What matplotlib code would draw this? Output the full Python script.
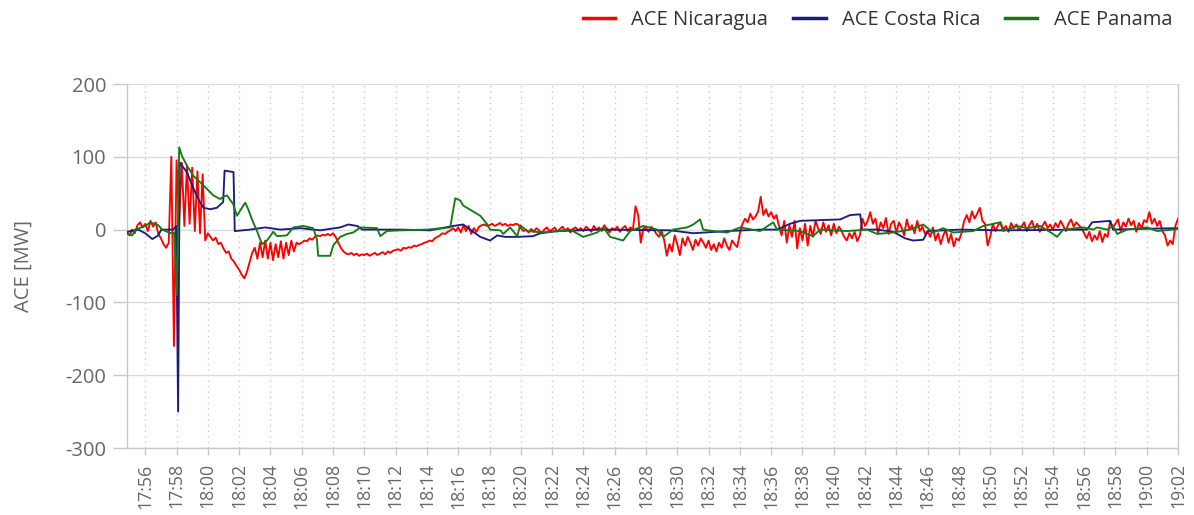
import matplotlib
matplotlib.use("Agg")
import matplotlib.pyplot as plt
import matplotlib.dates as mdates
import pandas as pd

plt.rcParams['font.family'] = ['Open Sans', 'DejaVu Sans']
plt.rcParams['axes.unicode_minus'] = False

# ---------------- data ----------------
day = '2024-01-01 '
t_start = pd.Timestamp(day + '17:54:50')
t_ref = pd.Timestamp(day + '17:56:00')
t_end = pd.Timestamp(day + '19:02:00')

series_names = ['ACE Nicaragua', 'ACE Costa Rica', 'ACE Panama']
series_colors = ['#FF0000', '#1C1C80', '#157A15']
y_label = 'ACE [MW]'
y_ticks = [200, 100, 0, -100, -200, -300]

# Nicaragua: samples every 10 s starting 17:54:50 (one row = 2 minutes)
red_mw = [
    -3, -8, 0, -5, 6, 10, 3,
    8, -2, 12, 4, 10, -6, -12, -20, -25, -18, 100, -160,          # 17:56
    95, 10, 92, 5, 88, 8, 85, -2, 80, -5, 76, -15,                # 17:58
    -5, -10, -15, -11, -20, -18, -26, -32, -30, -40, -44, -50,    # 18:00
    -55, -62, -67, -58, -45, -32, -25, -40, -18, -38, -15, -40,   # 18:02
    -18, -42, -20, -38, -16, -40, -18, -35, -15, -30, -18, -20,   # 18:04
    -18, -15, -16, -12, -14, -10, -8, -9, -7, -8, -6, -8,         # 18:06
    -5, -10, -18, -25, -30, -33, -34, -32, -35, -33, -36, -34,    # 18:08
    -35, -33, -36, -34, -32, -35, -33, -31, -34, -30, -32, -29,   # 18:10
    -28, -27, -29, -25, -26, -24, -25, -22, -23, -21, -20, -18,   # 18:12
    -17, -15, -16, -12, -10, -8, -5, -6, -3, -1, 2, -2,           # 18:14
    3, -4, 6, -2, 5, -6, 2, -3, 4, 6, 7, 5,                       # 18:16
    6, 8, 5, 7, 9, 6, 8, 5, 7, 6, 8, 7,                           # 18:18
    2, -2, 0, -4, 1, -3, 2, -1, -5, 0, 3, -2,                     # 18:20
    0, 3, -3, 1, 4, -2, 2, -4, 1, 3, -1, 2,                       # 18:22
    -2, 4, 1, -3, 5, 0, 3, -2, 6, 1, -4, 2,                       # 18:24
    0, 4, -3, 2, 5, -2, 3, 0, 32, 20, -18, 2,                     # 18:26
    2, -3, 4, 0, -6, -10, -2, -15, -36, -20, -30, -8,             # 18:28
    -20, -35, -12, -22, -10, -18, -28, -14, -22, -12, -18, -25,   # 18:30
    -15, -28, -20, -30, -18, -25, -12, -22, -28, -15, -20, -24,   # 18:32
    -5, 8, 15, 10, 22, 14, 18, 25, 45, 20, 28, 18,                # 18:34
    24, 15, 20, 5, -8, 12, -18, 6, -10, 12, -26, 2,               # 18:36
    -15, 8, -22, 5, -10, 12, 2, -6, 10, -3, 6, -8,                # 18:38
    8, -5, 4, -2, -10, -15, -5, -12, -3, -16, -8, 15,             # 18:40
    5, 12, 24, 8, 15, -5, 10, 2, 16, -6, 8, 12,                   # 18:42
    -4, 10, 3, -8, 14, 0, 6, -5, 12, -2, 4, -6,                   # 18:44
    -2, -10, 3, -15, -5, -20, -8, 0, -18, -6, -23, -12,           # 18:46
    -15, -5, 12, 20, 10, 25, 15, 22, 30, 12, 8, -22,              # 18:48
    -10, 8, -2, 6, 10, 0, 5, -3, 9, 2, 7, -1,                     # 18:50
    4, 10, -2, 6, 12, 1, 8, -3, 5, 11, 2, 7,                      # 18:52
    0, 9, 3, 12, 5, -2, 8, 14, 4, 10, 6, 2,                       # 18:54
    -5, -12, -3, -16, -8, -14, -2, -17, -6, -10, 12, 3,           # 18:56
    8, 14, -2, 10, 4, 15, 6, 12, -3, 9, 2, 13,                    # 18:58
    10, 24, 8, 15, 5, 12, -2, -8, -22, -15, -20, 5,               # 19:00
    15,
]

# Costa Rica: minutes after 17:56 and values
blue_min = [-1.15, -0.45, 0.0, 0.45, 0.83, 1.02, 1.79, 1.98, 2.10, 2.20, 2.66, 3.09,
            3.51, 3.73, 4.15, 4.58, 4.98, 5.07, 5.64, 5.72, 6.71, 7.67, 8.63, 9.90,
            11.18, 12.46, 12.97, 13.55, 13.87, 16.29, 18.21, 19.68, 20.32, 20.77, 21.41,
            22.04, 22.49, 23.00, 23.77, 24.79, 25.24, 26.33, 29.07, 33.55, 35.02, 37.19,
            39.30, 40.38, 41.21, 41.85, 44.41, 45.05, 45.69, 45.81, 46.77, 47.80, 48.56,
            49.07, 49.71, 50.03, 52.08, 54.63, 60.19, 60.51, 61.66, 61.85, 63.58, 66.0]
blue_mw = [-3, 0, -5, -13, -8, 0, 0, 5, -250, 92, 79, 56,
           37, 30, 28, 30, 38, 81, 79, -2, 0, 3, 0, 2,
           -1, 3, 7, 5, 0, 0, -1, 5, 7, 0, -10,
           -15, -8, -10, -10, -9, -5, -2, 0, -1, -5, -2,
           0, 0, 8, 12, 14, 20, 21, 0, 0, -3, -12,
           -15, -14, -2, 0, -1, 0, 10, 12, 0, 1, 2]

# Panama: minutes after 17:56 and values
green_min = [-1.15, -0.83, -0.64, 0.0, 0.32, 0.83, 1.09, 1.60, 1.85, 2.01, 2.17, 2.35,
             2.66, 3.07, 3.51, 3.94, 4.35, 4.79, 4.98, 5.22, 5.62, 5.86, 6.18, 6.39,
             6.58, 6.82, 7.14, 7.46, 7.78, 8.18, 8.42, 9.05, 9.46, 10.10, 10.73, 10.97,
             11.05, 11.82, 12.01, 12.46, 12.89, 13.29, 13.74, 14.81, 15.02, 15.44, 16.29,
             18.02, 19.49, 19.81, 20.13, 20.32, 21.41, 21.83, 22.04, 22.68, 22.88, 23.32,
             23.77, 23.96, 24.41, 25.43, 26.33, 27.16, 27.99, 28.88, 29.27, 29.71, 30.54,
             30.99, 31.82, 32.72, 33.10, 33.74, 34.63, 35.02, 35.46, 35.65, 36.29, 37.19,
             38.02, 39.30, 40.13, 40.38, 41.85, 42.68, 43.13, 44.86, 46.13, 46.77, 47.80,
             48.88, 49.71, 50.35, 50.99, 51.63, 52.91, 53.55, 54.63, 54.82, 55.72, 56.36,
             57.19, 58.02, 58.27, 58.66, 59.94, 60.58, 60.83, 61.47, 61.85, 62.11, 62.75,
             64.03, 64.66, 65.69, 66.0]
green_mw = [-6, -8, 0, 5, 10, 6, 0, -5, -4, -90, 113, 101,
            88, 74, 65, 56, 47, 42, 45, 47, 35, 19, 30, 37,
            28, 14, -2, -20, -15, -3, -9, -8, 3, 5, 2, -13,
            -36, -36, -22, -10, -6, -4, 3, 2, -9, -2, -1,
            0, 3, 43, 40, 33, 19, 8, 0, -1, -6, 3,
            -9, 6, -2, -4, -2, 0, -10, -4, 3, -10, -15,
            -2, 5, 0, -10, 0, 3, 7, 14, 0, -2, -4,
            3, -2, 10, 0, -2, -9, 0, -2, 0, -6, -4,
            0, 7, -4, 2, -4, -2, 5, 10, -2, 5, 2,
            5, -6, -10, 0, 3, 0, 3, 0, 5, -6, 0,
            3, -2, 0, 1]

# ---------------- build times ----------------
red_t = pd.date_range(t_start, periods=len(red_mw), freq='10s').to_numpy()
blue_t = (t_ref + pd.to_timedelta(blue_min, unit='min')).to_numpy()
green_t = (t_ref + pd.to_timedelta(green_min, unit='min')).to_numpy()

# ---------------- figure ----------------
W, H = 1194, 515
fig = plt.figure(figsize=(W / 100, H / 100), dpi=100)
ax = fig.add_axes([127 / W, 1 - 448 / H, (1178 - 127) / W, (448 - 84) / H])

lw = 1.35
ax.plot(red_t, red_mw, color=series_colors[0], lw=lw, label=series_names[0], zorder=3)
ax.plot(blue_t, blue_mw, color=series_colors[1], lw=lw, label=series_names[1], zorder=4)
ax.plot(green_t, green_mw, color=series_colors[2], lw=lw, label=series_names[2], zorder=5)

ax.set_xlim(t_start.to_numpy(), t_end.to_numpy())
ax.set_ylim(-300, 200)
ax.set_yticks(y_ticks)

ax.xaxis.set_major_locator(mdates.MinuteLocator(byminute=range(0, 60, 2)))
ax.xaxis.set_major_formatter(mdates.DateFormatter('%H:%M'))

tick_color = '#666666'
fs_x = 12.8
fs_y = 14.5
ax.tick_params(axis='x', labelrotation=90, labelsize=fs_x, colors='#c8c8c8',
               labelcolor=tick_color, length=5, width=1, pad=6)
ax.tick_params(axis='y', labelsize=fs_y, colors='#c8c8c8', labelcolor=tick_color,
               length=10, width=1, pad=5)

ax.grid(axis='y', color='#dcdcdc', lw=1, ls='-')
ax.grid(axis='x', color='#c8c8c8', lw=1, ls=(0, (1, 3)))
ax.set_axisbelow(True)

for side in ['left', 'bottom', 'right']:
    ax.spines[side].set_color('#c8c8c8')
    ax.spines[side].set_linewidth(1)
ax.spines['top'].set_visible(False)

ax.set_ylabel(y_label, fontsize=fs_y, color=tick_color, labelpad=23)

fs_leg = 14.5
leg = fig.legend(loc='upper right', bbox_to_anchor=(1172 / W, 1 - 10 / H), ncol=3,
                 frameon=False, fontsize=fs_leg, handlelength=1.6, handletextpad=0.8,
                 columnspacing=1.25, borderpad=0, borderaxespad=0)
for line in leg.get_lines():
    line.set_linewidth(2.5)
for txt in leg.get_texts():
    txt.set_color('#333333')

fig.savefig('out.png', dpi=100)
